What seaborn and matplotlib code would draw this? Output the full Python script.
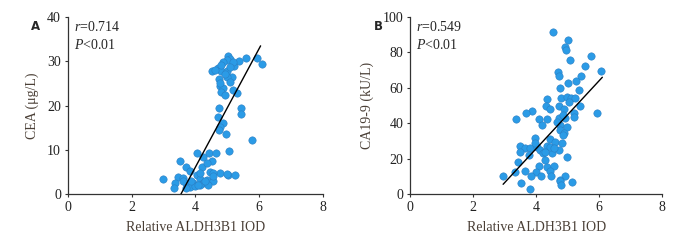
import numpy as np
import pandas as pd
import seaborn as sns
import matplotlib.pyplot as plt

# panel A: ALDH3B1 IOD vs CEA
iod_a = [5.03, 5.08, 4.98, 5.59, 5.95, 6.08, 5.37, 5.22, 4.87, 4.72, 4.51, 4.82, 4.98,
         5.14, 4.75, 4.98, 4.77, 4.87, 4.82, 4.93, 5.19, 5.32, 5.19, 5.08, 4.82, 4.61,
         4.93, 4.77, 5.08, 4.74, 5.45, 5.45, 4.70, 4.87, 4.77, 4.74, 4.96, 5.79, 5.05,
         4.04, 4.43, 4.64, 4.25, 4.54, 3.51, 3.72, 4.20, 4.36, 3.82, 4.46, 4.77, 5.03,
         5.24, 2.99, 3.46, 3.62, 4.04, 4.14, 4.36, 4.56, 3.35, 3.72, 3.92, 4.25, 4.40,
         3.33, 3.82, 4.14, 4.56, 4.98, 4.14, 3.98, 3.72, 3.62, 4.56, 4.30, 4.10, 3.88]
cea = [31.1, 30.6, 30.4, 30.8, 30.8, 29.5, 30.1, 28.9, 29.9, 28.4, 27.8, 27.8, 27.8,
       26.5, 26.0, 26.5, 24.5, 23.9, 23.1, 22.4, 23.6, 22.9, 29.9, 28.7, 29.1, 28.0,
       27.2, 25.0, 25.4, 19.5, 19.4, 18.0, 17.5, 16.1, 15.2, 14.5, 13.5, 12.1, 9.8,
       9.2, 9.2, 9.2, 8.3, 7.4, 7.4, 6.2, 6.2, 7.0, 5.3, 4.9, 4.7, 4.2,
       4.4, 3.5, 3.8, 3.6, 4.4, 3.5, 3.2, 2.9, 2.5, 2.5, 2.5, 2.5, 2.1,
       1.4, 1.6, 4.7, 4.7, 4.6, 2.1, 1.7, 1.4, 2.9, 4.0, 3.0, 2.0, 3.0]
fit_a_x = [3.55, 6.05]
fit_a_y = [0.0, 33.5]

# panel B: ALDH3B1 IOD vs CA19-9
iod_b = [4.52, 5.00, 4.93, 4.96, 5.06, 5.74, 5.56, 6.07, 4.68, 4.71, 5.42, 5.26, 5.01,
         4.74, 5.35, 4.78, 4.98, 5.11, 5.22, 4.34, 5.03, 5.40, 4.32, 4.71, 4.45, 4.87,
         3.87, 3.69, 5.21, 5.93, 3.37, 4.08, 4.34, 4.71, 4.93, 5.19, 4.18, 4.77, 4.98,
         4.77, 4.87, 3.95, 4.45, 4.84, 4.61, 4.82, 3.50, 3.65, 3.81, 4.34, 4.03, 4.13,
         4.20, 4.50, 4.71, 3.50, 3.77, 4.29, 3.42, 4.98, 4.08, 4.34, 4.58, 4.45, 3.32,
         3.65, 3.99, 2.94, 3.83, 4.15, 4.48, 4.93, 4.74, 4.77, 5.14, 3.52, 4.79, 3.81,
         3.97, 4.45, 4.58, 4.29, 4.85, 4.65]
ca199 = [91.6, 87.2, 83.1, 81.2, 75.6, 77.9, 72.2, 69.4, 69.0, 66.8, 66.8, 63.8, 62.8,
         59.7, 58.7, 54.0, 55.0, 54.0, 54.0, 53.7, 52.2, 49.7, 49.7, 49.7, 47.8, 47.8,
         47.1, 46.0, 46.0, 45.6, 42.2, 42.2, 42.2, 42.8, 42.8, 43.7, 39.0, 39.0, 38.1,
         36.2, 34.3, 31.5, 31.0, 33.4, 29.6, 28.7, 27.4, 25.9, 25.9, 27.2, 26.8, 25.0,
         23.1, 23.1, 25.0, 24.0, 22.1, 19.3, 18.0, 20.8, 15.6, 15.0, 15.6, 12.8, 12.4,
         12.8, 12.4, 9.9, 9.9, 9.9, 9.9, 9.9, 8.1, 7.1, 6.8, 6.2, 5.3, 3.0,
         28.7, 26.8, 25.9, 24.0, 44.5, 40.5]
fit_b_x = [2.95, 6.1]
fit_b_y = [5.5, 66.0]

sns.set_style("ticks")
plt.rcParams['font.family'] = ['Liberation Serif', 'DejaVu Serif']
plt.rcParams['mathtext.fontset'] = 'custom'
plt.rcParams['mathtext.it'] = 'Liberation Serif:italic'
plt.rcParams['mathtext.rm'] = 'Liberation Serif'

fig = plt.figure(figsize=(7, 2.43), dpi=100)
ax_a = fig.add_axes([0.097, 0.2016, 0.364, 0.728])
ax_b = fig.add_axes([0.586, 0.2016, 0.36, 0.728])

dot = "#2b9be6"
edge = "#2a7fc4"
lab_col = "#4a3f36"
fs = 10

panels = [
    (ax_a, iod_a, cea, fit_a_x, fit_a_y, 40, 10, "CEA (μg/L)", "A", "0.714"),
    (ax_b, iod_b, ca199, fit_b_x, fit_b_y, 100, 20, "CA19-9 (kU/L)", "B", "0.549"),
]

for ax, xs, ys, fx, fy, ymax, ystep, ylab, tag, rval in panels:
    df = pd.DataFrame({"x": xs, "y": ys})
    sns.scatterplot(data=df, x="x", y="y", ax=ax, color=dot, s=28,
                    edgecolor=edge, linewidth=0.4, zorder=2)
    ax.plot(fx, fy, color="black", lw=1.0, zorder=3)
    ax.set_xlim(0, 8)
    ax.set_ylim(0, ymax)
    ax.set_xticks([0, 2, 4, 6, 8])
    ax.set_yticks(np.arange(0, ymax + 1, ystep))
    ax.set_xlabel("Relative ALDH3B1 IOD", fontsize=fs, color=lab_col, labelpad=5)
    ax.set_ylabel(ylab, fontsize=fs, color=lab_col, labelpad=6)
    ax.tick_params(axis="both", labelsize=fs, length=2.5, width=0.8,
                   color="#333333", labelcolor="#222222", pad=2.5)
    for sp in ["left", "bottom"]:
        ax.spines[sp].set_color("#333333")
        ax.spines[sp].set_linewidth(0.9)
    sns.despine(ax=ax)
    ax.text(0.025, 0.985, r"$\it{r}$=" + rval, transform=ax.transAxes,
            fontsize=fs, va="top", ha="left")
    ax.text(0.025, 0.88, r"$\it{P}$<0.01", transform=ax.transAxes,
            fontsize=fs, va="top", ha="left")
    ax.text(-0.145, 0.985, tag, transform=ax.transAxes, fontsize=8.5,
            fontweight="bold", family="DejaVu Sans", va="top", ha="left")

fig.savefig("out.png", dpi=100)
